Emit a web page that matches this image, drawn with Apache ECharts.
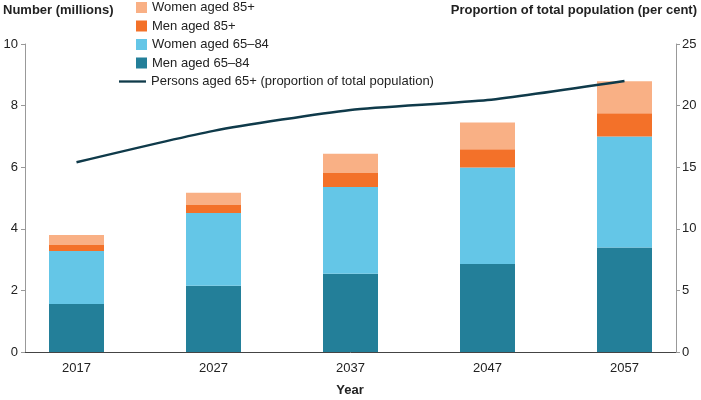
<!DOCTYPE html>
<html><head><meta charset="utf-8">
<script src="https://cdn.jsdelivr.net/npm/echarts@6/dist/echarts.min.js"></script>
<style>html,body{margin:0;padding:0;background:#fff}#c{width:701px;height:400px}</style>
</head><body><div id="c"></div>
<script>
const years = ['2017', '2027', '2037', '2047', '2057'];
const yearNums = [2017, 2027, 2037, 2047, 2057];
const men6584 = [1.56, 2.15, 2.54, 2.86, 3.39];
const women6584 = [1.72, 2.36, 2.82, 3.13, 3.61];
const men85 = [0.19, 0.26, 0.45, 0.59, 0.75];
const women85 = [0.33, 0.40, 0.63, 0.87, 1.04];
const persons65 = [15.4, 17.95, 19.65, 20.45, 22.0];

const font = 'Liberation Sans, Arial, sans-serif';
const chart = echarts.init(document.getElementById('c'), null, { renderer: 'canvas' });
const tStyle = { fontFamily: font, fontSize: 13, fontWeight: 'bold', color: '#222' };
chart.setOption({
  animation: false,
  textStyle: { fontFamily: font },
  grid: [
    { left: 8, right: 8, top: 44, bottom: 48 },
    { left: 25, right: 25, top: 44, bottom: 48 }
  ],
  title: [
    { text: 'Number (millions)', left: 3, top: 4, padding: 0, textStyle: tStyle },
    { text: 'Proportion of total population (per cent)', right: 4, top: 4, padding: 0, textStyle: tStyle },
    { text: 'Year', left: 350, textAlign: 'center', top: 384, padding: 0, textStyle: tStyle }
  ],
  legend: [
    { orient: 'vertical', left: 136, top: 1, padding: 0, itemWidth: 11, itemHeight: 11, itemGap: 5.5, icon: 'rect',
      textStyle: { fontFamily: font, fontSize: 13, color: '#222' },
      data: ['Women aged 85+', 'Men aged 85+', 'Women aged 65\u201384', 'Men aged 65\u201384'] },
    { orient: 'vertical', left: 119, top: 75, padding: 0, itemWidth: 27, itemHeight: 11,
      textStyle: { fontFamily: font, fontSize: 13, color: '#222' },
      data: [{ name: 'Persons aged 65+ (proportion of total population)', icon: 'path://M0,4.6 L27,4.6 L27,6.9 L0,6.9 Z' }] }
  ],
  xAxis: [
    { type: 'category', gridIndex: 0, data: years,
      axisLine: { show: false }, axisTick: { show: false },
      axisLabel: { fontSize: 13, color: '#222', margin: 10, fontFamily: font } },
    { type: 'value', gridIndex: 1, min: 2013.241, max: 2060.759,
      splitLine: { show: false },
      axisLine: { show: true, lineStyle: { color: '#444', width: 1 } },
      axisTick: { show: false }, axisLabel: { show: false } }
  ],
  yAxis: [
    { type: 'value', gridIndex: 0, min: 0, max: 10, show: false, splitLine: { show: false } },
    { type: 'value', gridIndex: 1, min: 0, max: 10, interval: 2, position: 'left',
      splitLine: { show: false },
      axisLine: { show: true, lineStyle: { color: '#999' } },
      axisTick: { show: true, length: 4, lineStyle: { color: '#999' } },
      axisLabel: { fontSize: 13, color: '#222', margin: 7, fontFamily: font } },
    { type: 'value', gridIndex: 1, min: 0, max: 25, interval: 5, position: 'right',
      splitLine: { show: false },
      axisLine: { show: true, lineStyle: { color: '#999' } },
      axisTick: { show: true, length: 4, lineStyle: { color: '#999' } },
      axisLabel: { fontSize: 13, color: '#222', margin: 6, fontFamily: font } }
  ],
  series: [
    { name: 'Men aged 65\u201384', type: 'bar', stack: 'a', barWidth: 55, xAxisIndex: 0, yAxisIndex: 0, data: men6584, itemStyle: { color: '#237f99' } },
    { name: 'Women aged 65\u201384', type: 'bar', stack: 'a', barWidth: 55, xAxisIndex: 0, yAxisIndex: 0, data: women6584, itemStyle: { color: '#64c6e7' } },
    { name: 'Men aged 85+', type: 'bar', stack: 'a', barWidth: 55, xAxisIndex: 0, yAxisIndex: 0, data: men85, itemStyle: { color: '#f37129' } },
    { name: 'Women aged 85+', type: 'bar', stack: 'a', barWidth: 55, xAxisIndex: 0, yAxisIndex: 0, data: women85, itemStyle: { color: '#f9b085' } },
    { name: 'Persons aged 65+ (proportion of total population)', type: 'line', xAxisIndex: 1, yAxisIndex: 2,
      data: yearNums.map((y, i) => [y, persons65[i]]),
      smooth: 0.2, symbol: 'none', lineStyle: { color: '#0f3a4a', width: 2.5 }, itemStyle: { color: '#0f3a4a' }, z: 5 }
  ]
});
</script></body></html>
